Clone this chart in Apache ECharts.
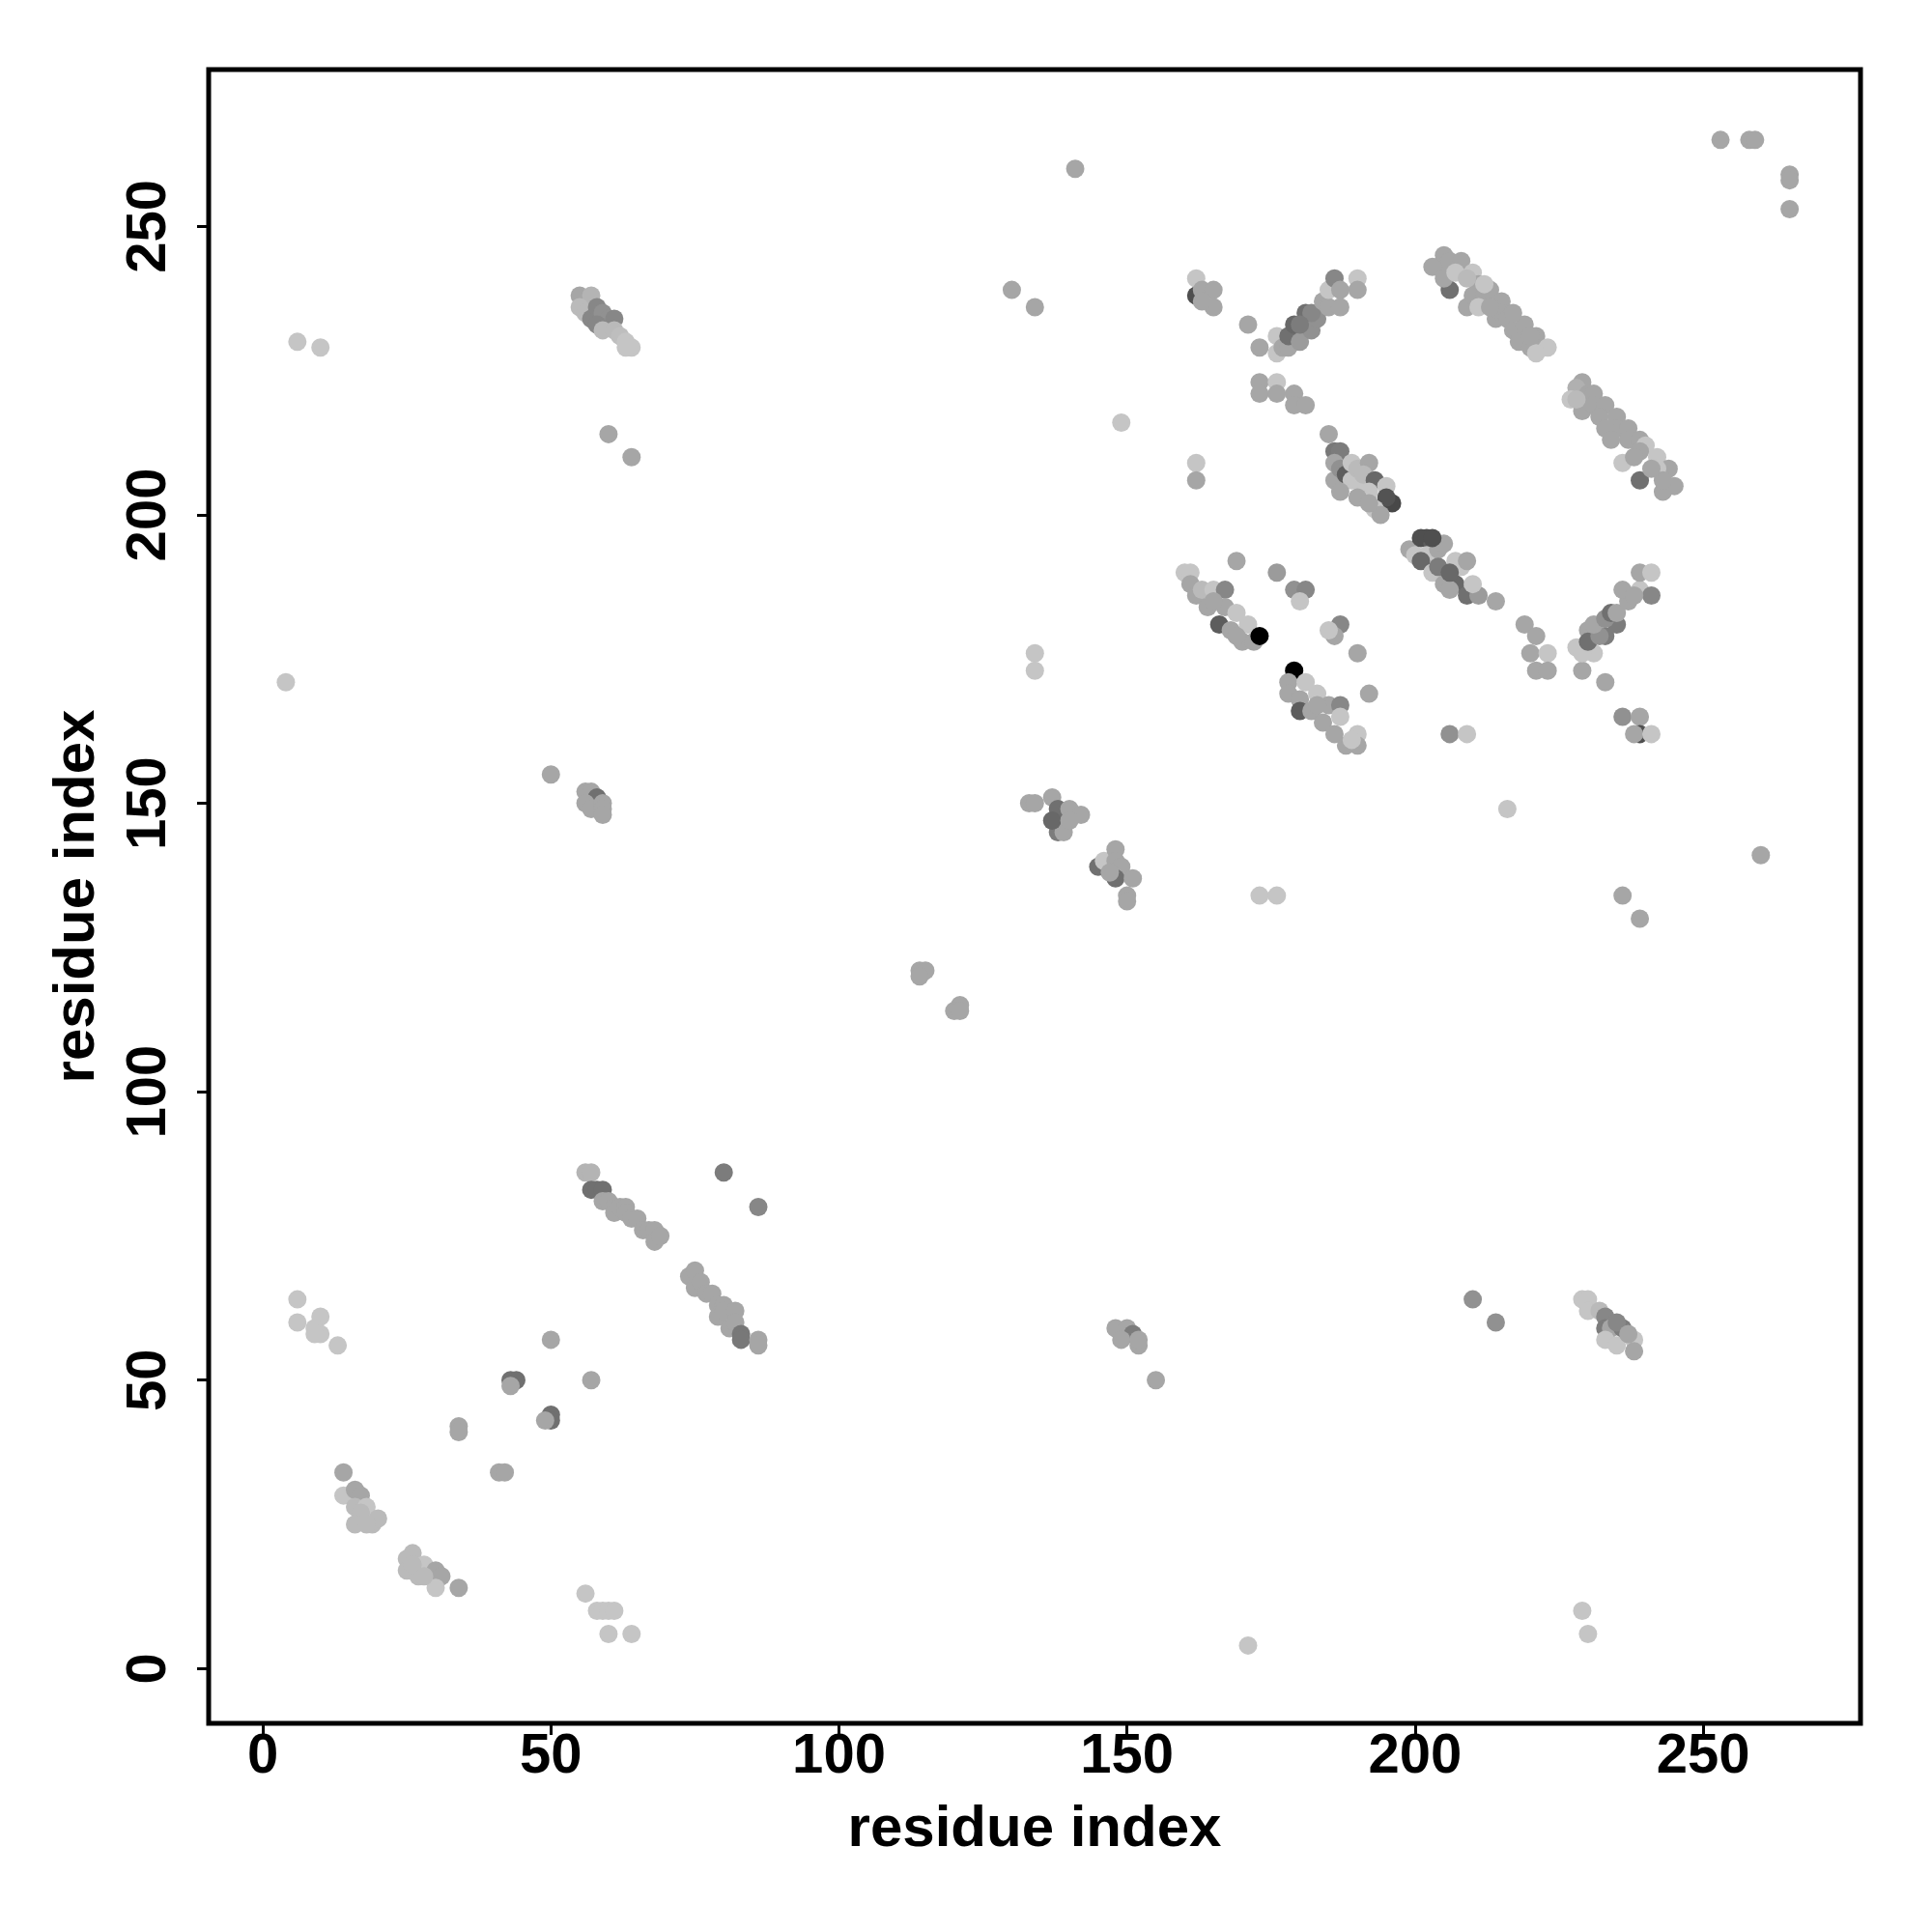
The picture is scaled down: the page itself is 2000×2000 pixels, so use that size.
<!DOCTYPE html>
<html>
<head>
<meta charset="utf-8">
<script src="https://cdn.jsdelivr.net/npm/echarts@6/dist/echarts.min.js"></script>
<style>html,body{margin:0;padding:0;background:#fff}#c{width:2000px;height:2000px}</style>
</head>
<body>
<div id="c"></div>
<script>
// tick labels
var xTicks = [0, 50, 100, 150, 200, 250];
var yTicks = [0, 50, 100, 150, 200, 250];
var axisTitleX = 'residue index';
var axisTitleY = 'residue index';

// contacts: [residue i, residue j, score]
var contactsLowLeft = [
  [4,171,0.05],
  [6,64,0.05],[6,60,0.05],[10,61,0.05],[9,59,0.05],[10,58,0.05],[9,58,0.05],[13,56,0.05],
  [14,34,0.2],[14,30,0.05],[16,31,0.2],[17,30,0.2],[16,28,0.1],[18,28,0.05],[17,27,0.1],[16,25,0.1],[19,25,0.1],[20,26,0.1],[18,25,0.1],
  [26,20,0.1],[25,19,0.1],[25,17,0.1],[27,16,0.1],[28,18,0.05],[30,17,0.2],[31,16,0.2],[30,14,0.05],[34,14,0.2],[26,18,0.1],[28,16,0.1],
  [34,42,0.2],[34,41,0.2],[41,34,0.2],[42,34,0.2],
  [43,50,0.46],[44,50,0.46],[43,49,0.2],[50,44,0.46],[50,43,0.46],[49,43,0.2],
  [50,57,0.2],[57,50,0.2],
  [56,13,0.05],[58,10,0.05],[59,10,0.05],[60,10,0.05],[61,10,0.05],[60,6,0.05],[64,6,0.05],
  [50,155,0.2],[56,152,0.2],[57,152,0.2],[58,151,0.46],[56,150,0.2],[57,149,0.2],[59,150,0.2],[59,149,0.2],[59,148,0.2]
];
var contactsStrandA = [
  [56,86,0.13],[57,86,0.13],[57,83,0.46],[58,83,0.46],[59,83,0.46],[59,81,0.2],[60,81,0.2],[61,80,0.2],[61,79,0.2],[62,80,0.2],[63,80,0.2],[63,79,0.2],[64,78,0.2],[65,78,0.2],[66,76,0.2],[67,76,0.2],[68,76,0.2],[68,74,0.2],[69,75,0.2],
  [74,68,0.2],[75,69,0.2],[75,66,0.2],[76,67,0.2],[77,65,0.2],[78,65,0.2],[79,63,0.2],[80,63,0.2],[79,61,0.2],[80,62,0.2],[81,59,0.2],[82,62,0.2],[82,60,0.2],[83,58,0.42],[83,57,0.42],[86,57,0.2],[86,56,0.2],
  [80,86,0.4],[86,80,0.35]
];
var contactsTopLeft = [
  [6,230,0.05],[10,229,0.05],
  [55,238,0.2],[57,238,0.13],[55,236,0.1],[56,235,0.1],[57,234,0.35],[58,236,0.35],[59,235,0.3],[60,234,0.3],[61,234,0.35],[58,233,0.35],[59,232,0.1],[61,232,0.1],[62,231,0.08],[63,230,0.05],[64,229,0.05],[63,229,0.05],
  [60,214,0.2],[64,210,0.2]
];
var contactsMiddle = [
  [114,121,0.2],[115,121,0.2],[114,120,0.2],[121,115,0.2],[120,114,0.2],[121,114,0.2],
  [133,150,0.2],[134,150,0.2],[137,151,0.2],[138,149,0.46],[140,149,0.2],[142,148,0.2],[139,146,0.05],[138,145,0.4],[139,145,0.2],[137,147,0.5],[140,147,0.2],
  [145,139,0.46],[146,140,0.05],[148,142,0.2],[148,140,0.2],[149,139,0.2],[148,137,0.46],[151,137,0.2],[150,134,0.2],[150,133,0.2],[147,138,0.2],
  [148,59,0.2],[150,59,0.2],[151,58,0.4],[149,57,0.2],[152,56,0.2],[152,57,0.2],[155,50,0.2],
  [171,4,0.05],[134,176,0.05],[134,173,0.05],[173,134,0.05],[176,134,0.05],
  [130,239,0.2],[134,236,0.2],[141,260,0.2],[149,216,0.05]
];
var contactsUpper = [
  [162,241,0.05],[162,238,0.62],[163,239,0.2],[165,239,0.2],[165,236,0.2],[163,237,0.2],
  [171,233,0.2],[173,229,0.2],
  [176,228,0.05],[176,231,0.05],[177,229,0.2],[178,229,0.2],[178,231,0.46],[179,233,0.5],[180,230,0.25],[181,235,0.46],[182,232,0.3],[183,234,0.3],[182,235,0.35],[184,237,0.2],[185,236,0.2],[185,239,0.05],[187,236,0.2],[186,241,0.35],[187,239,0.2],[190,241,0.05],[190,239,0.2],[180,233,0.4],
  [173,223,0.2],[173,221,0.2],[176,223,0.05],[176,221,0.2],[179,221,0.2],[179,219,0.2],[181,219,0.2],
  [185,214,0.2],[162,209,0.05],[162,206,0.2],
  [186,211,0.42],[187,211,0.4],[186,209,0.2],[186,206,0.2],[187,208,0.3],[188,207,0.55],[189,209,0.05],[189,206,0.05],[190,206,0.05],[190,208,0.1],[192,209,0.2],[191,207,0.1],[193,206,0.5],[192,204,0.05],[195,205,0.05],[196,202,0.65],[195,203,0.6],[193,201,0.05],[194,200,0.2],[190,203,0.2],[187,204,0.2],[192,202,0.2]
];
var contactsCentre = [
  [199,194,0.2],[200,193,0.05],[201,196,0.62],[202,196,0.62],[203,195,0.55],[202,193,0.05],[204,194,0.2],[205,195,0.2],[201,192,0.5],[203,190,0.05],[205,188,0.2],[204,191,0.4],[207,192,0.05],[207,188,0.5],[208,191,0.05],[206,187,0.2],[209,186,0.46],[211,186,0.25],[210,188,0.05],[206,190,0.5],[209,192,0.2],[214,185,0.2],[203,196,0.62],
  [160,190,0.05],[161,190,0.05],[169,192,0.2],[176,190,0.25],[179,187,0.3],[181,187,0.35],[180,185,0.05],
  [161,188,0.2],[162,186,0.2],[163,187,0.1],[165,187,0.05],[167,187,0.35],[164,184,0.2],[167,184,0.2],[165,185,0.2],[169,183,0.05],[166,181,0.55],[171,181,0.05],[168,180,0.2],[170,178,0.2],[172,178,0.2],[169,179,0.2],[173,179,1],
  [187,181,0.35],[186,179,0.2],[185,180,0.05],[190,176,0.2],[192,169,0.2],
  [179,173,1],[178,171,0.2],[181,171,0.05],[178,169,0.2],[183,169,0.05],[180,168,0.2],[185,167,0.2],[187,167,0.35],[180,166,0.55],[182,166,0.2],[184,164,0.2],[187,165,0.05],[186,162,0.2],[190,162,0.05],[190,160,0.2],[188,160,0.2],[183,167,0.2],[189,161,0.05],
  [206,162,0.3],[209,162,0.05]
];
var contactsRight = [
  [205,245,0.2],[204,243,0.2],[203,243,0.2],[206,244,0.2],[208,244,0.2],[206,239,0.46],[205,241,0.2],[207,242,0.05],[209,236,0.2],[210,242,0.05],[211,240,0.2],[210,238,0.2],[212,238,0.2],[213,239,0.2],[211,236,0.05],[214,234,0.2],[215,237,0.2],[215,235,0.2],[216,234,0.2],[217,232,0.2],[219,233,0.2],[218,230,0.2],[220,229,0.2],[221,231,0.2],[223,229,0.05],[221,228,0.05],[220,231,0.2],[213,236,0.2],[217,235,0.2],[212,240,0.05],[209,241,0.1],
  [229,223,0.2],[228,222,0.15],[227,220,0.05],[230,221,0.2],[231,221,0.2],[229,218,0.2],[231,219,0.2],[233,219,0.2],[232,217,0.2],[235,217,0.2],[235,215,0.2],[233,215,0.2],[237,215,0.2],[237,213,0.2],[239,213,0.2],[240,212,0.05],[236,209,0.05],[239,211,0.2],[242,210,0.05],[244,208,0.2],[239,206,0.46],[242,208,0.05],[243,204,0.2],[245,205,0.2],[243,206,0.2],[241,208,0.2],[234,213,0.2],[238,210,0.2],[228,220,0.1],
  [219,181,0.2],[221,179,0.2],[220,176,0.2],[223,176,0.05],[221,173,0.2],[223,173,0.2],[229,173,0.2],[233,171,0.2],
  [228,177,0.05],[231,176,0.05],[230,180,0.2],[233,179,0.4],[235,181,0.4],[229,176,0.05],[230,178,0.46],[232,179,0.3],
  [231,181,0.2],[233,182,0.3],[234,183,0.46],[235,183,0.2],[237,185,0.2],[236,187,0.2],[239,187,0.05],[241,186,0.35],[239,190,0.2],[241,190,0.05],[238,186,0.2],
  [236,165,0.3],[239,165,0.2],[239,162,0.62],[238,162,0.2],[241,162,0.05],
  [216,149,0.05],[260,141,0.2],[236,134,0.2],[239,130,0.2],
  [253,265,0.2],[258,265,0.2],[259,265,0.2],[265,259,0.2],[265,258,0.2],[265,253,0.2]
];
var contactsLowRight = [
  [210,64,0.3],[214,60,0.3],
  [229,64,0.05],[230,64,0.05],[230,62,0.05],[232,62,0.1],[233,61,0.35],[233,59,0.4],[234,59,0.2],[236,59,0.4],[235,60,0.35],[233,57,0.05],[235,56,0.05],[238,57,0.05],[238,55,0.2],[237,58,0.2],
  [229,10,0.05],[230,6,0.05]
];

var allContacts = [].concat(contactsLowLeft, contactsStrandA, contactsTopLeft, contactsMiddle,
  contactsUpper, contactsCentre, contactsRight, contactsLowRight);

var FONT = '"Liberation Sans", Arial, Helvetica, sans-serif';
var chart = echarts.init(document.getElementById('c'), null, {renderer: 'canvas'});
chart.setOption({
  animation: false,
  backgroundColor: '#ffffff',
  grid: {left: 216, right: 74, top: 72, bottom: 216, show: true, borderColor: '#000', borderWidth: 5, backgroundColor: 'transparent'},
  visualMap: {show: false, type: 'continuous', min: 0, max: 1, dimension: 2, inRange: {color: ['#cfcfcf', '#000000']}},
  xAxis: {
    type: 'value', min: -9.4, max: 277.3,
    name: axisTitleX, nameLocation: 'middle', nameGap: 80,
    nameTextStyle: {fontFamily: FONT, fontWeight: 'bold', fontSize: 60, color: '#000'},
    axisLine: {show: false, onZero: false},
    axisTick: {show: true, length: 12, lineStyle: {color: '#000', width: 3}, customValues: xTicks},
    axisLabel: {fontFamily: FONT, fontWeight: 'bold', fontSize: 58, color: '#000', margin: 6, customValues: xTicks},
    splitLine: {show: false}
  },
  yAxis: {
    type: 'value', min: -9.5, max: 277.2,
    name: axisTitleY, nameLocation: 'middle', nameGap: 106,
    nameTextStyle: {fontFamily: FONT, fontWeight: 'bold', fontSize: 60, color: '#000'},
    axisLine: {show: false, onZero: false},
    axisTick: {show: true, length: 12, lineStyle: {color: '#000', width: 3}, customValues: yTicks},
    axisLabel: {fontFamily: FONT, fontWeight: 'bold', fontSize: 58, color: '#000', margin: 32, rotate: 90, customValues: yTicks},
    splitLine: {show: false}
  },
  series: [{
    type: 'scatter',
    symbol: 'circle',
    symbolSize: 19,
    data: allContacts,
    itemStyle: {opacity: 1}
  }]
});
</script>
</body>
</html>
